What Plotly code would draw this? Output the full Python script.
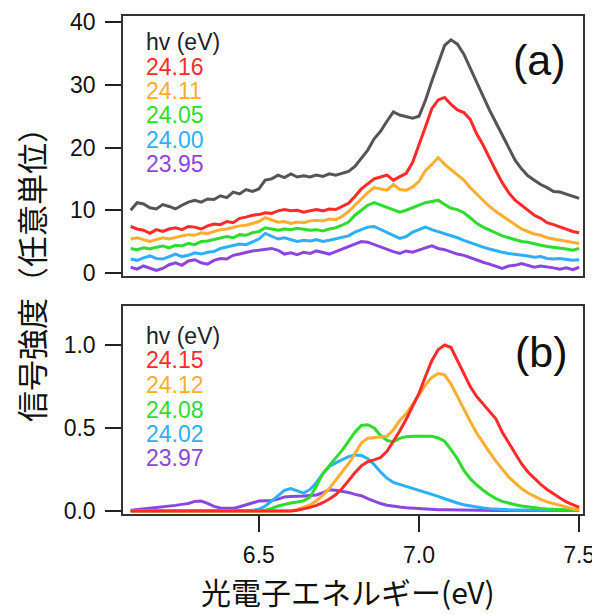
import plotly.graph_objects as go

# ---------------- data ----------------
energy = [round(6.10 + 0.02 * i, 2) for i in range(71)]  # eV, 6.10 ... 7.50

# panel (a): measured spectra, hv (eV)
hv_a = ["24.16", "24.11", "24.05", "24.00", "23.95"]
a_gray = [10.0, 11.2, 11.0, 10.4, 10.2, 10.9, 10.6, 10.2, 10.8, 11.3,
          11.6, 11.3, 11.8, 11.7, 12.3, 12.0, 12.9, 12.6, 13.3, 13.0,
          13.4, 14.8, 15.0, 15.6, 15.2, 15.8, 15.3, 15.5, 15.3, 15.6,
          15.4, 15.8, 15.6, 15.9, 16.2, 17.0, 18.3, 19.6, 21.4, 22.6,
          24.2, 25.7, 25.2, 25.0, 24.7, 25.0, 27.5, 30.6, 33.5, 36.3,
          37.2, 36.5, 34.9, 32.6, 30.4, 28.2, 26.0, 24.0, 22.0, 20.0,
          18.0, 16.6, 15.5, 14.8, 14.1, 13.6, 13.0, 12.9, 12.6, 12.2,
          11.9]
a_2416 = [7.4, 7.0, 6.8, 6.3, 6.9, 6.6, 7.0, 7.2, 6.9, 7.4,
          7.3, 7.0, 7.5, 7.8, 7.7, 8.2, 8.0, 8.7, 8.9, 9.2,
          9.3, 9.6, 9.5, 9.9, 10.1, 9.9, 10.0, 9.7, 9.9, 10.1,
          9.9, 10.2, 10.1, 10.6, 11.1, 12.2, 13.4, 14.2, 15.0, 15.3,
          15.6, 14.8, 15.3, 15.9, 17.6, 20.3, 23.3, 26.2, 27.6, 28.0,
          26.9, 26.0, 25.6, 24.5, 22.2, 20.4, 18.3, 16.3, 14.4, 12.8,
          11.6, 10.8, 9.9, 9.2, 8.7, 8.0, 7.7, 7.3, 7.0, 6.6,
          6.4]
a_2411 = [5.4, 5.6, 5.3, 5.0, 5.3, 5.6, 5.4, 5.7, 5.9, 6.1,
          6.0, 6.4, 6.3, 6.6, 6.9, 7.0, 7.3, 7.5, 7.6, 7.9,
          8.2, 8.8, 8.4, 8.1, 8.2, 7.9, 8.1, 8.0, 8.3, 8.4,
          8.3, 8.6, 8.5, 9.0, 9.8, 10.8, 11.7, 12.8, 13.6, 13.4,
          13.2, 14.1, 13.3, 13.2, 13.7, 14.6, 16.3, 17.3, 18.4, 17.3,
          16.5, 15.6, 14.8, 13.6, 12.6, 11.6, 10.6, 9.8, 9.1, 8.3,
          7.6, 7.0, 6.6, 6.2, 6.0, 5.6, 5.4, 5.2, 5.0, 4.8,
          4.7]
a_2405 = [3.9, 3.7, 4.0, 3.8, 4.1, 4.3, 4.0, 4.4, 4.3, 4.7,
          4.5, 5.0, 5.1, 5.3, 5.5, 5.8, 5.6, 6.1, 6.0, 6.4,
          6.6, 7.2, 7.0, 6.8, 7.0, 6.9, 7.1, 6.9, 6.8, 6.9,
          6.7, 7.0, 7.2, 7.6, 8.1, 9.2, 10.0, 10.8, 11.2, 10.8,
          10.4, 10.0, 9.7, 10.0, 10.4, 10.8, 11.2, 11.4, 11.6, 10.9,
          10.3, 10.1, 9.6, 8.8, 7.9, 7.3, 6.8, 6.3, 5.9, 5.6,
          5.3, 5.0, 4.9, 4.6, 4.4, 4.2, 4.1, 4.0, 3.8, 3.6,
          3.9]
a_2400 = [2.2, 2.0, 2.4, 2.7, 2.3, 2.2, 2.6, 3.0, 2.6, 2.8,
          3.2, 3.0, 3.3, 3.4, 3.9, 4.1, 4.3, 4.6, 4.5, 5.0,
          5.4, 6.3, 5.8, 5.4, 5.6, 5.3, 5.0, 5.2, 5.1, 5.3,
          5.0, 5.2, 5.4, 5.6, 5.9, 6.5, 6.9, 7.3, 7.4, 6.9,
          6.5, 6.0, 5.5, 5.8, 6.5, 6.9, 7.3, 6.9, 6.6, 6.3,
          5.9, 5.6, 5.2, 4.8, 4.4, 4.1, 3.8, 3.5, 3.3, 3.1,
          3.0, 2.9, 2.7, 2.5, 2.6, 2.3, 2.2, 2.3, 2.1, 2.0,
          2.1]
a_2395 = [0.9, 0.6, 1.1, 0.8, 0.4, 0.7, 1.3, 1.6, 1.2, 1.9,
          2.1, 1.6, 1.4, 2.0, 2.3, 2.2, 2.8, 3.0, 3.3, 3.5,
          3.6, 3.8, 3.9, 3.6, 3.0, 3.2, 2.9, 3.3, 3.1, 3.5,
          3.2, 3.0, 3.4, 3.8, 4.1, 4.6, 5.0, 4.9, 4.5, 4.1,
          3.8, 3.4, 3.1, 3.5, 3.3, 3.7, 4.0, 4.3, 3.9, 3.7,
          3.3, 3.0, 2.8, 2.4, 2.0, 1.7, 1.4, 1.0, 0.7, 1.1,
          1.2, 1.5, 1.2, 0.9, 1.1, 1.0, 0.8, 0.6, 0.8, 0.5,
          0.9]

# panel (b): calculated spectra, hv (eV)
hv_b = ["24.15", "24.12", "24.08", "24.02", "23.97"]
b_2415 = [0.0] * 26 + [
    0.005, 0.012, 0.022, 0.034, 0.050, 0.072, 0.098, 0.135, 0.185, 0.230,
    0.272, 0.297, 0.308, 0.322, 0.360, 0.418, 0.482, 0.553, 0.630, 0.709,
    0.810, 0.905, 0.972, 1.000, 0.985, 0.905, 0.830, 0.750, 0.690, 0.645,
    0.605, 0.555, 0.475, 0.410, 0.345, 0.285, 0.235, 0.195, 0.160, 0.130,
    0.103, 0.078, 0.055, 0.038, 0.022]
b_2412 = [0.0] * 26 + [
    0.010, 0.022, 0.036, 0.062, 0.095, 0.135, 0.185, 0.235, 0.285, 0.345,
    0.410, 0.438, 0.442, 0.445, 0.450, 0.490, 0.545, 0.585, 0.640, 0.700,
    0.760, 0.805, 0.828, 0.820, 0.765, 0.690, 0.610, 0.540, 0.470, 0.410,
    0.355, 0.300, 0.250, 0.205, 0.170, 0.135, 0.108, 0.088, 0.070, 0.055,
    0.044, 0.034, 0.024, 0.014, 0.008]
b_2408 = [0.0] * 21 + [
    0.005, 0.015, 0.030, 0.040, 0.048, 0.054, 0.062, 0.085, 0.150, 0.225,
    0.275, 0.320, 0.365, 0.420, 0.475, 0.515, 0.520, 0.500, 0.455, 0.425,
    0.418, 0.438, 0.448, 0.450, 0.450, 0.450, 0.450, 0.440, 0.420, 0.370,
    0.315, 0.245, 0.195, 0.158, 0.125, 0.098, 0.075, 0.058, 0.046, 0.038,
    0.030, 0.024, 0.019, 0.015, 0.012, 0.010, 0.008, 0.006, 0.005, 0.004]
b_2402 = [0.0] * 19 + [
    0.004, 0.010, 0.030, 0.060, 0.092, 0.125, 0.135, 0.122, 0.108, 0.130,
    0.172, 0.225, 0.268, 0.290, 0.310, 0.328, 0.338, 0.335, 0.315, 0.280,
    0.235, 0.198, 0.172, 0.160, 0.148, 0.138, 0.127, 0.115, 0.100, 0.088,
    0.074, 0.060, 0.048, 0.038, 0.030, 0.024, 0.018, 0.014, 0.011, 0.009,
    0.007, 0.006, 0.006, 0.005, 0.005, 0.005, 0.004, 0.004, 0.004, 0.004,
    0.003, 0.003]
b_2397 = [
    0.004, 0.008, 0.012, 0.015, 0.020, 0.027, 0.030, 0.034, 0.040, 0.045,
    0.058, 0.060, 0.046, 0.028, 0.018, 0.015, 0.016, 0.026, 0.036, 0.050,
    0.060, 0.062, 0.063, 0.072, 0.085, 0.088, 0.088, 0.090, 0.094, 0.097,
    0.110, 0.128, 0.125, 0.118, 0.112, 0.100, 0.092, 0.075, 0.060, 0.045,
    0.035, 0.028, 0.024, 0.020, 0.017, 0.015, 0.012, 0.010, 0.008, 0.007,
    0.006, 0.005, 0.005, 0.004, 0.004, 0.004] + [0.003] * 15

# ---------------- styling ----------------
GRAY = "#555555"
COLORS = ["#ff2b2b", "#ffad2e", "#2ddc2d", "#2eaefc", "#8c46e0"]
LATIN = "Liberation Sans, Arial, Helvetica, sans-serif"
CJK = "Noto Sans CJK JP"

# the page body adds an 8 px offset; build the figure 8 px smaller and shift
OFF = 8
W, H = 600 - OFF, 615 - OFF
# reference plot frame: x 123..583, y 16..514 (page pixels)
ML = 123 - OFF
MT = 16 - OFF
MR = W - (583 - OFF)
MB = H - (514 - OFF)
PW = W - ML - MR
PH = H - MT - MB


def xp(px):
    """page pixel x -> paper fraction"""
    return (px - OFF - ML) / PW


def yp(py):
    """page pixel y -> paper fraction"""
    return (H - MB - (py - OFF)) / PH


fig = go.Figure()

series_a = [a_2416, a_2411, a_2405, a_2400, a_2395]
series_b = [b_2415, b_2412, b_2408, b_2402, b_2397]
LW = 3.0

# draw from bottom (purple) to top (red / gray)
for vals, col in reversed(list(zip(series_a, COLORS))):
    fig.add_trace(go.Scatter(x=energy, y=vals, xaxis="x2", yaxis="y2", mode="lines",
                             line=dict(color=col, width=LW), showlegend=False,
                             hoverinfo="skip"))
fig.add_trace(go.Scatter(x=energy, y=a_gray, xaxis="x2", yaxis="y2", mode="lines",
                         line=dict(color=GRAY, width=LW), showlegend=False,
                         hoverinfo="skip"))
for vals, col in reversed(list(zip(series_b, COLORS))):
    fig.add_trace(go.Scatter(x=energy, y=vals, xaxis="x", yaxis="y", mode="lines",
                             line=dict(color=col, width=LW), showlegend=False,
                             hoverinfo="skip"))

axis_common = dict(showline=True, mirror=True, linecolor="#333333", linewidth=1.5,
                   showgrid=False, zeroline=False, ticks="outside", ticklen=16,
                   tickwidth=1.5, tickcolor="#222222",
                   tickfont=dict(family=LATIN, size=23, color="#111111"))

fig.update_layout(
    width=W, height=H,
    margin=dict(l=ML, r=MR, t=MT, b=MB, autoexpand=False),
    paper_bgcolor="white", plot_bgcolor="white",
    xaxis=dict(domain=[0, 1], anchor="y", range=[6.076, 7.512],
               tickvals=[6.5, 7.0, 7.5], tickformat=".1f", ticklabelstandoff=4,
               **axis_common),
    xaxis2=dict(domain=[0, 1], anchor="y2", matches="x", range=[6.076, 7.512],
                showline=True, mirror=True, linecolor="#333333", linewidth=1.5,
                showgrid=False, zeroline=False, ticks="", showticklabels=False),
    yaxis=dict(domain=[0, yp(306)], anchor="x", range=[-0.018, 1.235],
               tickvals=[0.0, 0.5, 1.0], tickformat=".1f", ticklabelstandoff=5,
               **axis_common),
    yaxis2=dict(domain=[yp(276), 1], anchor="x2", range=[-0.5, 41],
                tickvals=[0, 10, 20, 30, 40], ticklabelstandoff=5,
                **axis_common),
)

ann = []
# in-plot legends
legend_rows_a = [42, 67, 91, 115, 140, 164]
legend_rows_b = [336, 360, 385, 410, 434, 458]
for rows, labels in ((legend_rows_a, hv_a), (legend_rows_b, hv_b)):
    ann.append(dict(x=xp(144), y=yp(rows[0]), xref="paper", yref="paper",
                    text="hv (eV)", showarrow=False, xanchor="left", yanchor="middle",
                    font=dict(family=LATIN, size=23, color="#222222")))
    for r, lab, col in zip(rows[1:], labels, COLORS):
        ann.append(dict(x=xp(144), y=yp(r), xref="paper", yref="paper",
                        text=lab, showarrow=False, xanchor="left", yanchor="middle",
                        font=dict(family=LATIN, size=23, color=col)))
# panel labels
ann.append(dict(x=xp(539), y=yp(60), xref="paper", yref="paper", text="(a)",
                showarrow=False, xanchor="center", yanchor="middle",
                font=dict(family=LATIN, size=43, color="#111111")))
ann.append(dict(x=xp(541), y=yp(352), xref="paper", yref="paper", text="(b)",
                showarrow=False, xanchor="center", yanchor="middle",
                font=dict(family=LATIN, size=43, color="#111111")))
# axis titles
ann.append(dict(x=xp(30), y=yp(267), xref="paper", yref="paper",
                text="信号強度（任意単位）", textangle=-90, showarrow=False,
                xanchor="center", yanchor="middle",
                font=dict(family=CJK, size=31, color="#111111")))
ann.append(dict(x=xp(348), y=yp(591), xref="paper", yref="paper",
                text="光電子エネルギー(eV)", showarrow=False,
                xanchor="center", yanchor="middle",
                font=dict(family=CJK, size=30, color="#111111")))
fig.update_layout(annotations=ann)

fig.write_html("out.html")
